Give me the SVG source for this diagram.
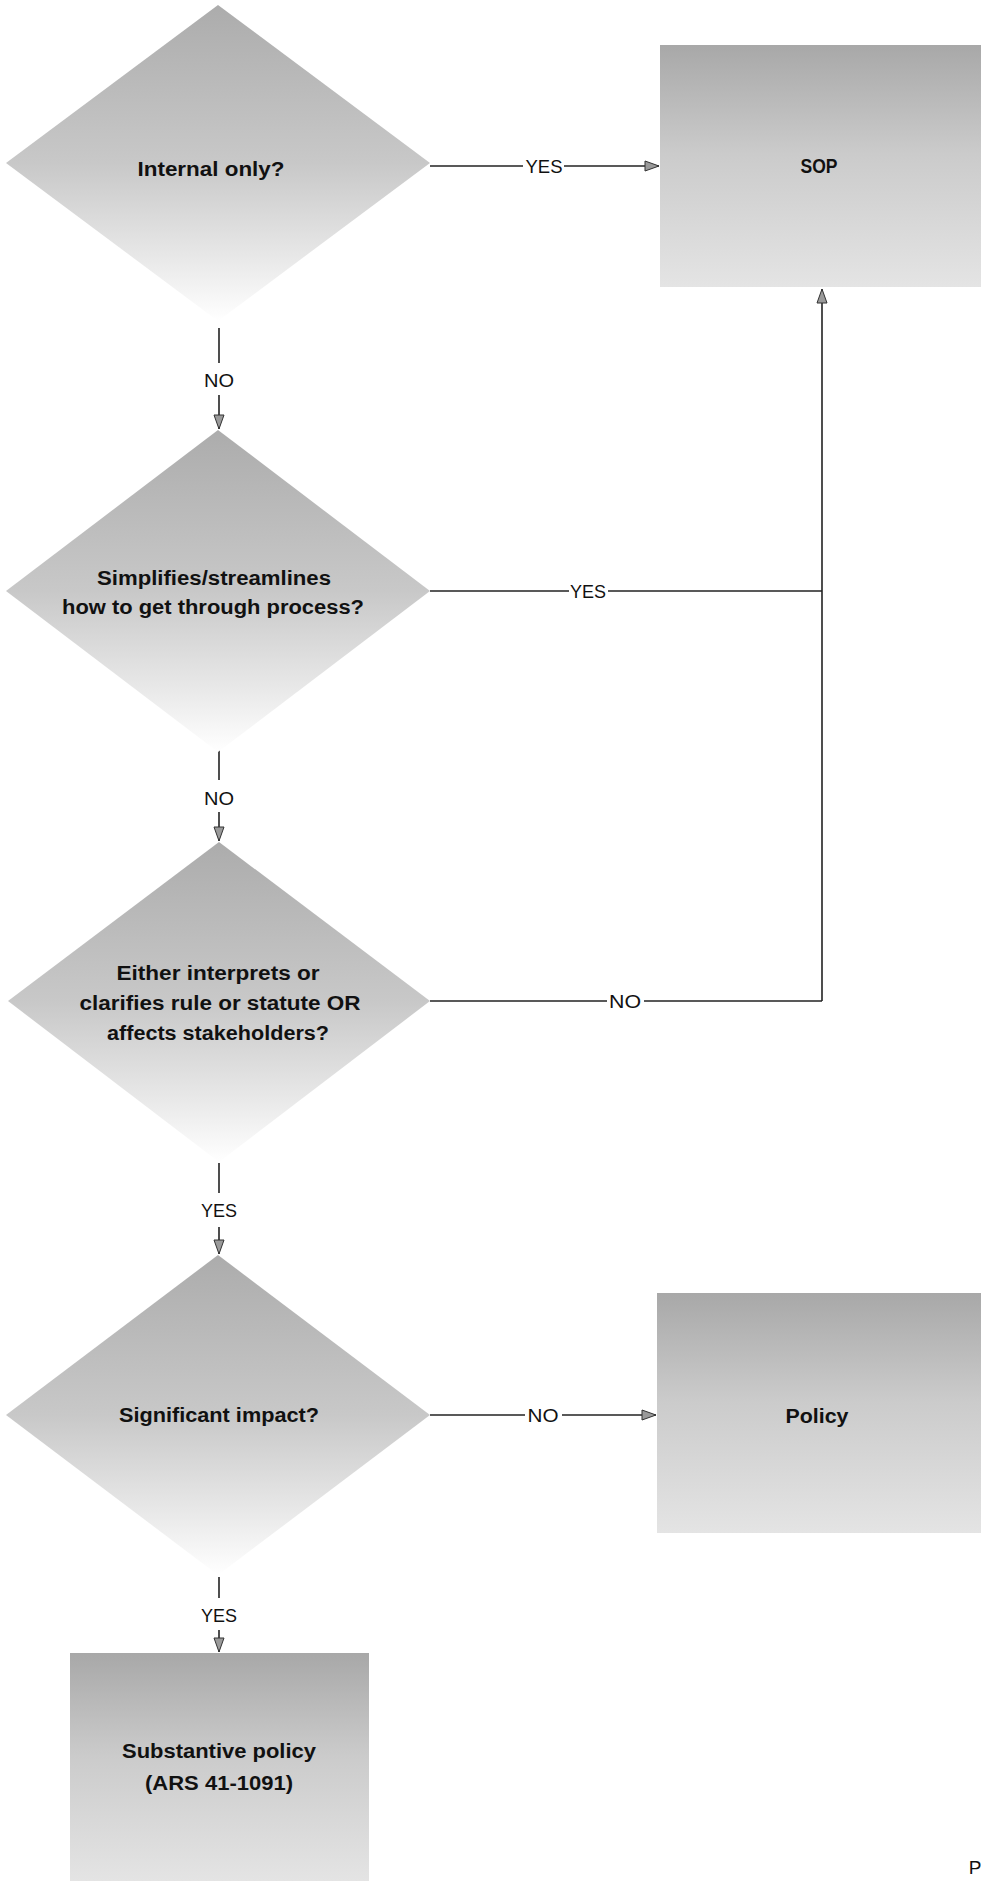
<svg xmlns="http://www.w3.org/2000/svg" width="981" height="1881" viewBox="0 0 981 1881">
<style>
.t{font-family:"Liberation Sans Narrow","Liberation Sans",Arial,sans-serif;font-weight:bold;font-size:20px;fill:#111;text-anchor:middle}
.l{font-family:"Liberation Sans Narrow","Liberation Sans",Arial,sans-serif;font-size:19px;fill:#111;text-anchor:middle}
.c{stroke:#222;stroke-width:1.6;fill:none}
.d{fill:url(#gd)}
.b{fill:url(#gb)}
</style>
<defs>
<linearGradient id="gd" x1="0" y1="0" x2="0" y2="1">
<stop offset="0" stop-color="#acacac"/>
<stop offset="0.5" stop-color="#c8c8c8"/>
<stop offset="0.8" stop-color="#e8e8e8"/>
<stop offset="1" stop-color="#ffffff"/>
</linearGradient>
<linearGradient id="gb" x1="0" y1="0" x2="0" y2="1">
<stop offset="0" stop-color="#a8a8a8"/>
<stop offset="0.45" stop-color="#cbcbcb"/>
<stop offset="1" stop-color="#e4e4e4"/>
</linearGradient>
<marker id="ah" markerWidth="16" markerHeight="12" refX="15" refY="6" orient="auto" markerUnits="userSpaceOnUse">
<path d="M1,1 L15,6 L1,11 Z" fill="#9a9a9a" stroke="#333" stroke-width="1"/>
</marker>
</defs>
<rect width="981" height="1881" fill="#fff"/>

<g id="connectors">
<line class="c" x1="430" y1="166" x2="523" y2="166"/>
<line class="c" x1="564" y1="166" x2="659" y2="166" marker-end="url(#ah)"/>
<text class="l" x="544" y="173" textLength="37" lengthAdjust="spacingAndGlyphs">YES</text>
<line class="c" x1="219" y1="328" x2="219" y2="363"/>
<text class="l" x="219" y="387" textLength="30" lengthAdjust="spacingAndGlyphs">NO</text>
<line class="c" x1="219" y1="395" x2="219" y2="429" marker-end="url(#ah)"/>
<line class="c" x1="430" y1="591" x2="569" y2="591"/>
<text class="l" x="588" y="598" textLength="36" lengthAdjust="spacingAndGlyphs">YES</text>
<line class="c" x1="608" y1="591" x2="822" y2="591"/>
<line class="c" x1="430" y1="1001" x2="607" y2="1001"/>
<text class="l" x="625" y="1008" textLength="32" lengthAdjust="spacingAndGlyphs">NO</text>
<line class="c" x1="644" y1="1001" x2="822" y2="1001"/>
<line class="c" x1="822" y1="1001" x2="822" y2="289" marker-end="url(#ah)"/>
<line class="c" x1="219" y1="750" x2="219" y2="780"/>
<text class="l" x="219" y="805" textLength="30" lengthAdjust="spacingAndGlyphs">NO</text>
<line class="c" x1="219" y1="812" x2="219" y2="841" marker-end="url(#ah)"/>
<line class="c" x1="219" y1="1163" x2="219" y2="1193"/>
<text class="l" x="219" y="1217" textLength="36" lengthAdjust="spacingAndGlyphs">YES</text>
<line class="c" x1="219" y1="1227" x2="219" y2="1254" marker-end="url(#ah)"/>
<line class="c" x1="430" y1="1415" x2="525" y2="1415"/>
<text class="l" x="543" y="1422" textLength="31" lengthAdjust="spacingAndGlyphs">NO</text>
<line class="c" x1="562" y1="1415" x2="656" y2="1415" marker-end="url(#ah)"/>
<line class="c" x1="219" y1="1577" x2="219" y2="1598"/>
<text class="l" x="219" y="1622" textLength="36" lengthAdjust="spacingAndGlyphs">YES</text>
<line class="c" x1="219" y1="1630" x2="219" y2="1652" marker-end="url(#ah)"/>
</g>

<g id="d1">
<polygon class="d" points="218,5 430,163 218,321 6,163"/>
<text class="t" x="211" y="176" textLength="147" lengthAdjust="spacingAndGlyphs">Internal only?</text>
</g>
<g id="sop">
<rect class="b" x="660" y="45" width="321" height="242"/>
<text class="t" x="819" y="173" textLength="37" lengthAdjust="spacingAndGlyphs">SOP</text>
</g>
<g id="d2">
<polygon class="d" points="218,430 430,591 218,752 6,591"/>
<text class="t" x="214" y="585" textLength="234" lengthAdjust="spacingAndGlyphs">Simplifies/streamlines</text>
<text class="t" x="213" y="614" textLength="302" lengthAdjust="spacingAndGlyphs">how to get through process?</text>
</g>
<g id="d3">
<polygon class="d" points="219,842 430,1001 219,1162 8,1001"/>
<text class="t" x="218" y="980" textLength="203" lengthAdjust="spacingAndGlyphs">Either interprets or</text>
<text class="t" x="220" y="1010" textLength="281" lengthAdjust="spacingAndGlyphs">clarifies  rule or statute OR</text>
<text class="t" x="218" y="1040" textLength="222" lengthAdjust="spacingAndGlyphs">affects stakeholders?</text>
</g>
<g id="d4">
<polygon class="d" points="218,1255 430,1415 218,1575 6,1415"/>
<text class="t" x="219" y="1422" textLength="200" lengthAdjust="spacingAndGlyphs">Significant impact?</text>
</g>
<g id="policy">
<rect class="b" x="657" y="1293" width="324" height="240"/>
<text class="t" x="817" y="1423" textLength="63" lengthAdjust="spacingAndGlyphs">Policy</text>
</g>
<g id="substantive">
<rect class="b" x="70" y="1653" width="299" height="228"/>
<text class="t" x="219" y="1758" textLength="194" lengthAdjust="spacingAndGlyphs">Substantive policy</text>
<text class="t" x="219" y="1790" textLength="148" lengthAdjust="spacingAndGlyphs">(ARS 41-1091)</text>
</g>
<text class="l" x="975" y="1874">P</text>
</svg>
